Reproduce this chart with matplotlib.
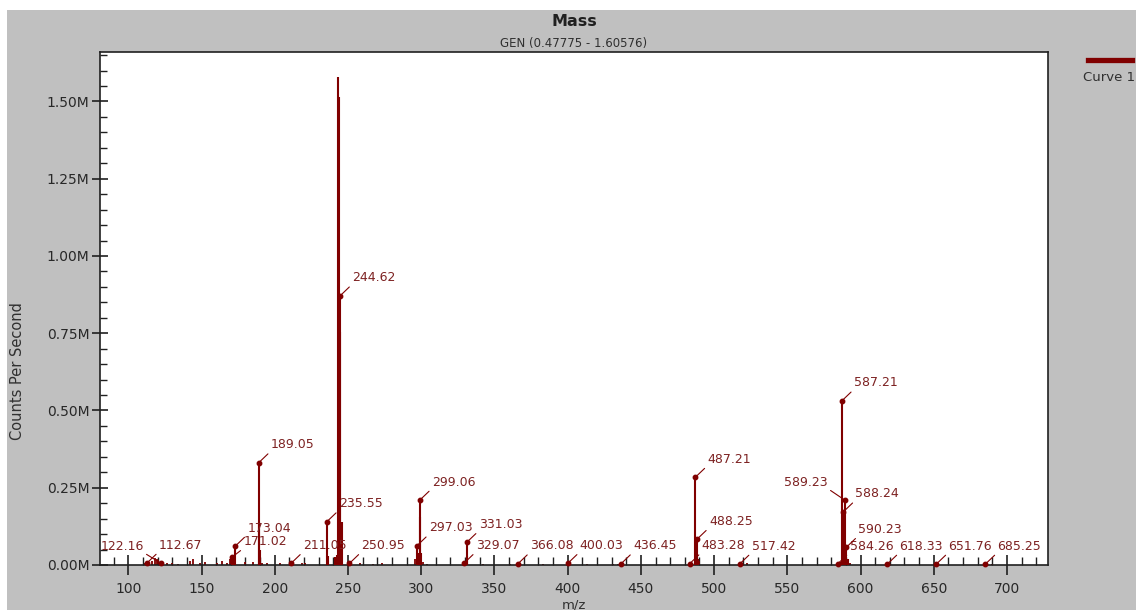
import matplotlib
matplotlib.use("Agg")
import matplotlib.pyplot as plt
from matplotlib.patches import Rectangle
from matplotlib.lines import Line2D
from matplotlib.ticker import MultipleLocator, FuncFormatter

# ---------------- data ----------------
# main spectrum sticks (m/z, counts per second)
peak_mz = [243.45, 243.6, 244.62, 244.8, 241.3, 242.3, 245.6,
           189.05, 189.55, 190.1, 173.04, 171.02, 172.2,
           235.55, 236.4, 299.06, 299.5, 297.03, 298.0, 300.06,
           331.03, 331.6, 329.07, 330.2,
           487.21, 488.25, 489.2, 483.28, 485.0,
           587.21, 588.24, 589.23, 590.23, 591.2, 584.26, 586.2]
peak_int = [1580000, 1515000, 871000, 754000, 25000, 32000, 140000,
            331000, 140000, 50000, 61000, 26000, 30000,
            140000, 30000, 210000, 156000, 62000, 40000, 40000,
            73000, 30000, 5000, 12000,
            284000, 83000, 20000, 4000, 6000,
            531000, 172000, 210000, 57000, 20000, 4000, 10000]

# small baseline peaks (m/z, counts per second)
noise_mz = [111.4, 112.67, 116.0, 118.2, 119.5, 120.4, 122.16, 126.2, 129.6, 134.0,
            142.1, 144.4, 149.0, 152.4, 160.4, 163.8, 167.2, 169.5, 170.3,
            179.7, 185.4, 191.1, 194.5, 203.6, 210.4, 211.05, 218.4, 220.7,
            250.95, 251.4, 258.2, 267.3, 273.1, 295.8, 301.5, 304.0, 328.8,
            342.5, 360.7, 365.3, 366.08, 367.6, 383.5, 399.4, 400.03, 413.1,
            431.3, 434.7, 436.45, 437.8, 484.8, 490.0, 517.42, 517.8, 522.8,
            583.9, 592.5, 618.33, 619.5, 651.76, 685.25, 690.0]
noise_int = [8000, 6000, 12000, 22000, 18000, 15000, 6000, 5000, 8000, 4000,
             12000, 20000, 6000, 10000, 6000, 12000, 8000, 20000, 25000,
             10000, 10000, 8000, 5000, 5000, 8000, 5000, 6000, 8000,
             5000, 6000, 5000, 4000, 6000, 20000, 10000, 4000, 6000,
             4000, 3000, 6000, 4000, 4000, 4000, 6000, 5000, 4000,
             4000, 4000, 4000, 6000, 6000, 12000, 5000, 6000, 8000,
             5000, 5000, 5000, 4000, 4000, 4000, 4000]

# labelled peaks
label_mz = [122.16, 112.67, 171.02, 173.04, 189.05, 211.05, 235.55, 244.62, 250.95,
            297.03, 299.06, 329.07, 331.03, 366.08, 400.03, 436.45,
            483.28, 487.21, 488.25, 517.42, 584.26, 587.21, 588.24, 589.23,
            590.23, 618.33, 651.76, 685.25]
label_int = [6000, 6000, 26000, 61000, 331000, 5000, 140000, 871000, 5000,
             62000, 210000, 5000, 73000, 4000, 5000, 4000,
             4000, 284000, 83000, 3000, 3000, 531000, 172000, 210000,
             57000, 3000, 3000, 3000]

x_ticks = [100, 150, 200, 250, 300, 350, 400, 450, 500, 550, 600, 650, 700]
y_ticks = [0, 250000, 500000, 750000, 1000000, 1250000, 1500000]

# ---------------- layout ----------------
W, H, DPI = 1136, 610, 100
RED = "#800000"
TXT_RED = "#7d2222"
GRAY = "#c0c0c0"

fig = plt.figure(figsize=(W / DPI, H / DPI), dpi=DPI, facecolor="white")
fig.patches.append(Rectangle((7 / W, 0), 1 - 7 / W, 1 - 10 / H, transform=fig.transFigure,
                             facecolor=GRAY, edgecolor="none", zorder=-10))

ax_l, ax_r, ax_t, ax_b = 99.5, 1048.3, 52.3, 565.0
ax = fig.add_axes([ax_l / W, (H - ax_b) / H, (ax_r - ax_l) / W, (ax_b - ax_t) / H])
ax.set_facecolor("white")

ax.vlines(noise_mz, 0, noise_int, color=RED, lw=1.3, zorder=2)
ax.vlines(peak_mz, 0, peak_int, color=RED, lw=1.5, zorder=3)

ax.set_xlim(80.33, 728.2)
ax.set_ylim(0, 1.659e6)

ax.set_xticks(x_ticks)
ax.set_yticks(y_ticks)
ax.xaxis.set_minor_locator(MultipleLocator(10))
ax.yaxis.set_minor_locator(MultipleLocator(50000))
ax.yaxis.set_major_formatter(FuncFormatter(lambda v, p: f"{v / 1e6:.2f}M"))

ax.tick_params(axis="x", which="major", direction="inout", length=14.4, width=1.2,
               pad=5, labelsize=10, labelcolor="#282828", color="#202020")
ax.tick_params(axis="x", which="minor", direction="in", length=5.8, width=1.0, color="#202020")
ax.tick_params(axis="y", which="major", direction="inout", length=11.5, width=1.2,
               pad=1.5, labelsize=10, labelcolor="#282828", color="#202020")
ax.tick_params(axis="y", which="minor", direction="in", length=5.0, width=1.0, color="#202020")
for s in ax.spines.values():
    s.set_color("#202020")
    s.set_linewidth(1.2)

# annotations: default offset (pixels) of text left-centre from the dot
default_off = (12, 18)
special = {122.16: (-17, 17, "right"), 589.23: (-17, 18, "right"), 171.02: (11, 15, "left")}
for mz, iv in zip(label_mz, label_int):
    dx, dy, ha = special.get(mz, (default_off[0], default_off[1], "left"))
    ax.plot([mz], [iv], "o", color=RED, ms=3.2, zorder=5, clip_on=False)
    ax.annotate(f"{mz:.2f}", xy=(mz, iv), xytext=(dx, dy), textcoords="offset pixels",
                ha=ha, va="center", fontsize=9, color=TXT_RED, zorder=6,
                annotation_clip=False,
                arrowprops=dict(arrowstyle="-", color=RED, lw=0.8, shrinkA=0, shrinkB=0,
                                relpos=(1, 0) if ha == "right" else (0, 0)))

# titles / labels
cx = (ax_l + ax_r) / 2 / W
fig.text(cx, 1 - 22 / H, "Mass", ha="center", va="center", fontsize=11.5, fontweight="bold",
         color="#202020")
fig.text(cx, 1 - 43.5 / H, "GEN (0.47775 - 1.60576)", ha="center", va="center", fontsize=8.5,
         color="#303030")
fig.text(cx, 1 - 598 / H, "m/z", ha="center", va="top", fontsize=9.5, color="#303030")
fig.text(17.5 / W, 1 - 371 / H, "Counts Per Second", ha="center", va="center", rotation=90,
         fontsize=10.5, color="#303030")

# legend
fig.lines.append(Line2D([1088 / W, 1132 / W], [1 - 60 / H, 1 - 60 / H], transform=fig.transFigure,
                        color=RED, lw=3.8))
fig.text(1083 / W, 1 - 77.5 / H, "Curve 1", ha="left", va="center", fontsize=9.5, color="#303030")

fig.savefig("out.png", dpi=DPI, facecolor=fig.get_facecolor())
